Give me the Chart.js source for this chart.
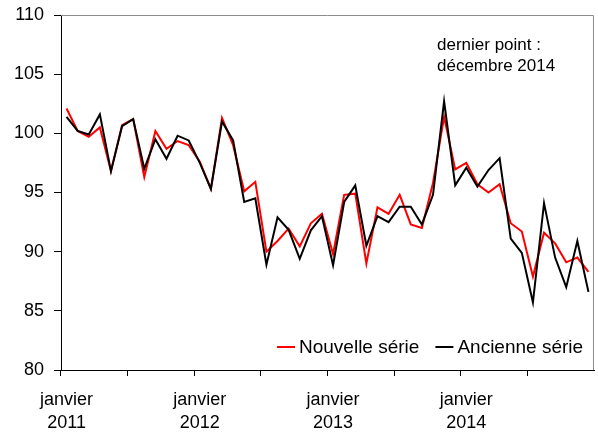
<!DOCTYPE html>
<html>
<head>
<meta charset="utf-8">
<script src="https://cdn.jsdelivr.net/npm/chart.js@4/dist/chart.umd.min.js"></script>
<style>
  html, body { margin: 0; padding: 0; background: #fff; }
  #wrap { width: 598px; height: 438px; position: relative; }
</style>
</head>
<body>
<div id="wrap"><canvas id="myChart"></canvas></div>
<script>
// months jan 2011 -> dec 2014
const years = ['2011', '2012', '2013', '2014'];
const months = [];
for (let y of years) {
    for (let m = 1; m <= 12; m++) {
        months.push(y + '-' + (m < 10 ? '0' + m : m));
    }
}

const nouvelleSerie = [
    102.1, 100.2, 99.7, 100.5, 96.8, 100.7, 101.2, 96.3, 100.2, 98.7, 99.35, 99.0,
    97.6, 95.3, 101.3, 99.0, 95.1, 95.9, 90.0, 90.9, 91.95, 90.45, 92.4, 93.2,
    89.8, 94.8, 94.9, 89.0, 93.75, 93.2, 94.8, 92.3, 92.0, 95.8, 101.4, 96.95,
    97.5, 95.7, 95.0, 95.7, 92.4, 91.7, 87.9, 91.6, 90.7, 89.1, 89.5, 88.3
];
const ancienneSerie = [
    101.4, 100.2, 99.9, 101.6, 96.8, 100.6, 101.2, 97.0, 99.5, 97.85, 99.8, 99.4,
    97.5, 95.3, 101.0, 99.4, 94.2, 94.5, 88.9, 92.9, 91.85, 89.4, 91.8, 93.0,
    88.85, 94.2, 95.6, 90.5, 93.0, 92.5, 93.8, 93.8, 92.3, 94.8, 102.7, 95.6,
    97.1, 95.5, 96.9, 97.9, 91.1, 89.9, 85.7, 94.1, 89.5, 87.0, 90.9, 86.6
];
const yTicks = [80, 85, 90, 95, 100, 105, 110];
const noteLines = ['dernier point :', 'décembre 2014'];

const font = 'Liberation Sans, Arial, sans-serif';

// gray frame on top/right, legend and note drawn inside the plot
const extras = {
    id: 'extras',
    afterDraw(chart) {
        const c = chart.ctx;
        const a = chart.chartArea;
        c.save();
        c.strokeStyle = '#8c8c8c';
        c.lineWidth = 1;
        c.beginPath();
        c.moveTo(a.left, a.top + 0.5);
        c.lineTo(a.right - 0.5, a.top + 0.5);
        c.lineTo(a.right - 0.5, a.bottom);
        c.stroke();

        c.fillStyle = '#000';
        c.font = '17px ' + font;
        c.textBaseline = 'middle';
        c.fillText(noteLines[0], 437, 45);
        c.fillText(noteLines[1], 437, 66);

        // legend
        c.font = '19px ' + font;
        let x = 277;
        const y = 347;
        chart.data.datasets.forEach(ds => {
            c.strokeStyle = ds.borderColor;
            c.lineWidth = 2;
            c.beginPath();
            c.moveTo(x, y);
            c.lineTo(x + 18, y);
            c.stroke();
            c.fillStyle = '#000';
            c.fillText(ds.label, x + 22, y + 1);
            x += 22 + c.measureText(ds.label).width + 16;
        });
        c.restore();
    }
};

const ctx = document.getElementById('myChart').getContext('2d');
new Chart(ctx, {
    type: 'line',
    data: {
        labels: months,
        datasets: [
            {
                label: 'Nouvelle série',
                data: nouvelleSerie,
                borderColor: '#ff0000',
                borderWidth: 2,
                pointRadius: 0,
                tension: 0,
                order: 2
            },
            {
                label: 'Ancienne série',
                data: ancienneSerie,
                borderColor: '#000000',
                borderWidth: 2,
                pointRadius: 0,
                tension: 0,
                order: 1
            }
        ]
    },
    options: {
        responsive: true,
        maintainAspectRatio: false,
        animation: false,
        layout: { padding: { top: 15, right: 4, left: 0, bottom: 0 } },
        plugins: {
            legend: { display: false },
            tooltip: { enabled: false }
        },
        scales: {
            x: {
                type: 'category',
                offset: true,
                afterFit: s => { s.height = 68; s.paddingLeft = 0; s.paddingRight = 0; },
                border: { color: '#000', width: 1 },
                grid: {
                    offset: true,
                    drawOnChartArea: false,
                    drawTicks: true,
                    tickLength: 6,
                    color: c => (c.index % 6 === 0 ? '#000' : 'rgba(0,0,0,0)')
                },
                ticks: {
                    autoSkip: false,
                    maxRotation: 0,
                    minRotation: 0,
                    padding: 13,
                    color: '#000',
                    font: { family: font, size: 18, lineHeight: 1.25 },
                    callback: (v, i) => (i % 12 === 0 ? ['janvier', months[i].slice(0, 4)] : '')
                }
            },
            y: {
                min: 80,
                max: 110,
                afterFit: s => { s.width = 61; s.paddingTop = 0; s.paddingBottom = 0; },
                afterBuildTicks: s => { s.ticks = yTicks.map(v => ({ value: v })); },
                border: { color: '#000', width: 1 },
                grid: {
                    drawOnChartArea: false,
                    drawTicks: true,
                    tickLength: 7,
                    color: '#000'
                },
                ticks: {
                    padding: 10,
                    color: '#000',
                    font: { family: font, size: 18 }
                }
            }
        }
    },
    plugins: [extras]
});
</script>
</body>
</html>
